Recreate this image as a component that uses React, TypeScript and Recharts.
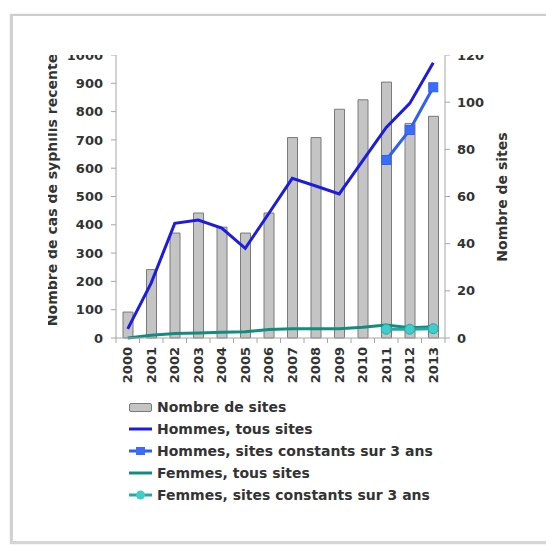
import React from 'react';
import { ComposedChart, Bar, Line, XAxis, YAxis, Legend } from 'recharts';

const years = ['2000', '2001', '2002', '2003', '2004', '2005', '2006', '2007', '2008', '2009', '2010', '2011', '2012', '2013'];
const nombreSites = [11, 29, 44.5, 53, 47, 44.5, 53, 85, 85, 97, 101, 108.5, 91, 94];
const hommesTous = [32, 195, 405, 417, 388, 317, 440, 564, 537, 509, 627, 744, 829, 973];
const hommesConst: (number | null)[] = [null, null, null, null, null, null, null, null, null, null, null, 629, 735, 886];
const femmesTous = [0, 10, 16, 18, 20, 22, 30, 33, 33, 33, 38, 46, 36, 40];
const femmesConst: (number | null)[] = [null, null, null, null, null, null, null, null, null, null, null, 31, 31, 33];

const leftTicks = [0, 100, 200, 300, 400, 500, 600, 700, 800, 900, 1000];
const rightTicks = [0, 20, 40, 60, 80, 100, 120];

const data = years.map((y, i) => ({
  year: y,
  sites: nombreSites[i],
  hTous: hommesTous[i],
  hConst: hommesConst[i],
  fTous: femmesTous[i],
  fConst: femmesConst[i],
}));

const FONT = '"DejaVu Sans", sans-serif';
const TEXT = '#333333';
const AXIS = '#a6a6a6';
const C_BAR = '#c4c4c4';
const C_BAR_STROKE = '#7a7a7a';
const C_H = '#1c1ce0';
const C_HC = '#2f5ff5';
const C_HC_M = '#3c6cff';
const C_F = '#138c80';
const C_FC = '#27a8a6';
const C_FC_M = '#40ccc8';

const tickStyle = { fontFamily: FONT, fontWeight: 'bold', fontSize: 13, fill: TEXT };

const XTick = (props: any) => {
  const { x, y, payload } = props;
  const off = payload && typeof payload.offset === 'number' && payload.offset > 0 ? payload.offset : 11.75;
  return (
    <g>
      <line x1={x - off} y1={y} x2={x - off} y2={y + 5} stroke={AXIS} strokeWidth={1} />
      {payload.index === years.length - 1 || payload.value === years[years.length - 1] ? (
        <line x1={x + off} y1={y} x2={x + off} y2={y + 5} stroke={AXIS} strokeWidth={1} />
      ) : null}
      <text
        x={x}
        y={y + 9}
        transform={`rotate(-90, ${x}, ${y + 9})`}
        textAnchor="end"
        dy="0.36em"
        style={tickStyle as any}
      >
        {payload.value}
      </text>
    </g>
  );
};

const SquareDot = (props: any) => {
  const { cx, cy, value, index } = props;
  if (value == null || cx == null || cy == null) return <g key={`sq-${index}`} />;
  return <rect key={`sq-${index}`} x={cx - 4.5} y={cy - 4.5} width={9} height={9} fill={C_HC_M} stroke={C_HC} strokeWidth={1} />;
};

const CircleDot = (props: any) => {
  const { cx, cy, value, index } = props;
  if (value == null || cx == null || cy == null) return <g key={`ci-${index}`} />;
  return <circle key={`ci-${index}`} cx={cx} cy={cy} r={5} fill={C_FC_M} stroke={C_FC} strokeWidth={1} />;
};

const legendItems = [
  { label: 'Nombre de sites', kind: 'bar' },
  { label: 'Hommes, tous sites', kind: 'line', color: C_H },
  { label: 'Hommes, sites constants sur 3 ans', kind: 'square', color: C_HC, marker: C_HC_M },
  { label: 'Femmes, tous sites', kind: 'line', color: C_F },
  { label: 'Femmes, sites constants sur 3 ans', kind: 'circle', color: C_FC, marker: C_FC_M },
];

const LegendContent = () => (
  <div style={{ fontFamily: FONT, fontWeight: 'bold', fontSize: 14, color: TEXT }}>
    {legendItems.map((it) => (
      <div key={it.label} style={{ display: 'flex', alignItems: 'center', height: 21.9, whiteSpace: 'nowrap' }}>
        <svg width={26} height={14} style={{ marginRight: 3 }}>
          {it.kind === 'bar' ? (
            <rect x={1.5} y={3.5} width={22} height={8} rx={1.5} fill={C_BAR} stroke={C_BAR_STROKE} strokeWidth={1} />
          ) : (
            <line x1={1} y1={7} x2={24} y2={7} stroke={it.color} strokeWidth={3} />
          )}
          {it.kind === 'square' ? <rect x={8} y={3} width={9} height={8} fill={it.marker} /> : null}
          {it.kind === 'circle' ? <circle cx={12.5} cy={7} r={4.5} fill={it.marker} /> : null}
        </svg>
        <span>{it.label}</span>
      </div>
    ))}
  </div>
);

const LeftTitle = () => (
  <text
    x={52}
    y={190}
    transform="rotate(-90, 52, 190)"
    textAnchor="middle"
    dy="0.36em"
    style={{ fontFamily: FONT, fontWeight: 'bold', fontSize: 14, fill: TEXT }}
  >
    Nombre de cas de syphilis récente
  </text>
);

const RightTitle = () => (
  <text
    x={502}
    y={197}
    transform="rotate(-90, 502, 197)"
    textAnchor="middle"
    dy="0.36em"
    style={{ fontFamily: FONT, fontWeight: 'bold', fontSize: 14, fill: TEXT }}
  >
    Nombre de sites
  </text>
);

export default function App() {
  const clipLeft = 48;
  const clipTop = 55;
  return (
    <div style={{ position: 'absolute', left: 0, top: 0, width: 546, height: 545, background: '#ffffff', overflow: 'hidden' }}>
      <div
        style={{
          position: 'absolute',
          left: 10,
          top: 14,
          width: 560,
          height: 525,
          borderLeft: '3px solid #d2d2d2',
          borderTop: '2px solid #cdcdcd',
          borderBottom: '3px solid #d6d6d6',
          boxShadow: '0 0 2px rgba(0,0,0,0.12)',
          background: '#ffffff',
        }}
      />
      <div
        style={{
          position: 'absolute',
          left: clipLeft,
          top: clipTop,
          width: 546 - clipLeft,
          height: 545 - clipTop - 10,
          overflow: 'hidden',
        }}
      >
        <div style={{ position: 'absolute', left: -clipLeft, top: -clipTop, width: 546, height: 545 }}>
          <ComposedChart width={546} height={545} data={data} margin={{ top: 55, right: 0, bottom: 0, left: 0 }}>
            <XAxis
              dataKey="year"
              xAxisId="x"
              height={207}
              tickSize={0}
              tickMargin={0}
              tickLine={false}
              axisLine={{ stroke: AXIS }}
              tick={<XTick />}
              interval={0}
            />
            <YAxis
              yAxisId="left"
              orientation="left"
              width={116}
              domain={[0, 1000]}
              ticks={leftTicks}
              interval={0}
              tickSize={5}
              tickMargin={8}
              axisLine={{ stroke: AXIS }}
              tickLine={{ stroke: AXIS }}
              tick={tickStyle}
              label={<LeftTitle />}
            />
            <YAxis
              yAxisId="right"
              orientation="right"
              width={101}
              domain={[0, 120]}
              ticks={rightTicks}
              interval={0}
              tickSize={5}
              tickMargin={7}
              axisLine={{ stroke: AXIS }}
              tickLine={{ stroke: AXIS }}
              tick={tickStyle}
              label={<RightTitle />}
            />
            <Bar
              xAxisId="x"
              yAxisId="right"
              dataKey="sites"
              name="Nombre de sites"
              barSize={10}
              fill={C_BAR}
              stroke={C_BAR_STROKE}
              strokeWidth={1}
              isAnimationActive={false}
            />
            <Line
              xAxisId="x"
              yAxisId="left"
              type="linear"
              dataKey="fTous"
              name="Femmes, tous sites"
              stroke={C_F}
              strokeWidth={3}
              dot={false}
              isAnimationActive={false}
            />
            <Line
              xAxisId="x"
              yAxisId="left"
              type="linear"
              dataKey="fConst"
              name="Femmes, sites constants sur 3 ans"
              stroke={C_FC}
              strokeWidth={3}
              dot={<CircleDot />}
              connectNulls={false}
              isAnimationActive={false}
            />
            <Line
              xAxisId="x"
              yAxisId="left"
              type="linear"
              dataKey="hTous"
              name="Hommes, tous sites"
              stroke={C_H}
              strokeWidth={3}
              dot={false}
              isAnimationActive={false}
            />
            <Line
              xAxisId="x"
              yAxisId="left"
              type="linear"
              dataKey="hConst"
              name="Hommes, sites constants sur 3 ans"
              stroke={C_HC}
              strokeWidth={3}
              dot={<SquareDot />}
              connectNulls={false}
              isAnimationActive={false}
            />
            <Legend
              layout="horizontal"
              verticalAlign="middle"
              align="center"
              content={<LegendContent />}
              wrapperStyle={{ left: 128, top: 396, width: 360, height: 112 }}
            />
          </ComposedChart>
        </div>
      </div>
    </div>
  );
}
